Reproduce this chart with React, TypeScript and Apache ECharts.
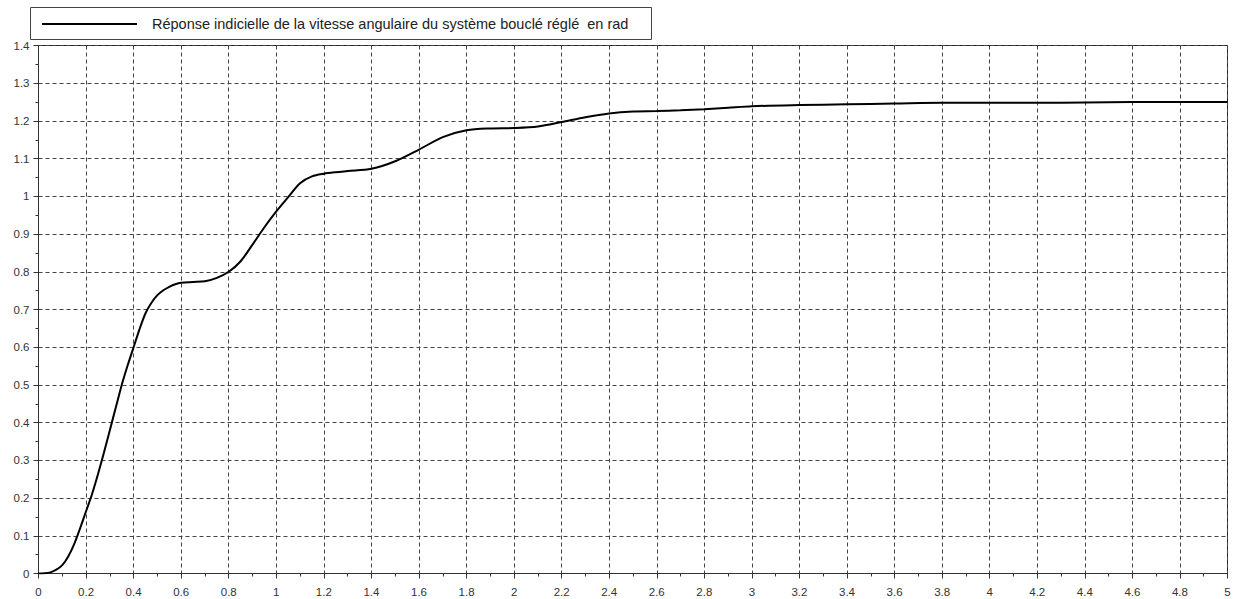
import React, { useEffect, useRef } from "react";
import * as echarts from "echarts";

const seriesName =
  "Réponse indicielle de la vitesse angulaire du système bouclé réglé  en rad";

const time = [
  0, 0.025, 0.05, 0.075, 0.1, 0.125, 0.15, 0.175, 0.2, 0.225, 0.25, 0.275, 0.3,
  0.325, 0.35, 0.375, 0.4, 0.425, 0.45, 0.475, 0.5, 0.525, 0.55, 0.575, 0.6,
  0.65, 0.7, 0.75, 0.8, 0.85, 0.9, 0.95, 1.0, 1.05, 1.1, 1.15, 1.2, 1.25, 1.3,
  1.4, 1.5, 1.6, 1.7, 1.8, 1.9, 2.0, 2.1, 2.2, 2.3, 2.4, 2.5, 2.6, 2.7, 2.8,
  2.9, 3.0, 3.2, 3.4, 3.6, 3.8, 4.0, 4.2, 4.4, 4.6, 4.8, 5.0,
];

const speed = [
  0, 0.0005, 0.003, 0.01, 0.022, 0.045, 0.078, 0.12, 0.165, 0.21, 0.263, 0.32,
  0.38, 0.44, 0.5, 0.552, 0.6, 0.648, 0.69, 0.718, 0.738, 0.751, 0.76, 0.767,
  0.771, 0.773, 0.775, 0.784, 0.8, 0.828, 0.872, 0.918, 0.96, 0.998, 1.035,
  1.053, 1.06, 1.064, 1.067, 1.073, 1.093, 1.124, 1.157, 1.175, 1.18, 1.181,
  1.185, 1.197, 1.21, 1.22, 1.225, 1.226, 1.228, 1.231, 1.235, 1.239, 1.242,
  1.244, 1.246, 1.248, 1.248, 1.248, 1.249, 1.25, 1.25, 1.25,
];

const FONT = "'Liberation Sans', Arial, Helvetica, sans-serif";

export default function App() {
  const ref = useRef<HTMLDivElement>(null);

  useEffect(() => {
    if (!ref.current) return;
    const chart = echarts.init(ref.current, undefined, { renderer: "svg" });
    const data = time.map((t, i) => [t, speed[i]]);
    const gridLine = {
      show: true,
      lineStyle: { color: "#444", width: 1, type: [4, 3] as any },
    };
    const axisCommon = {
      axisLine: { show: true, onZero: false, lineStyle: { color: "#333", width: 1 } },
      axisTick: { show: true, inside: false, length: 5, lineStyle: { color: "#333" } },
      minorTick: { show: true, splitNumber: 2, length: 3, lineStyle: { color: "#333" } },
      splitLine: gridLine,
    };
    chart.setOption({
      animation: false,
      backgroundColor: "#fff",
      textStyle: { fontFamily: FONT },
      grid: {
        left: 38.5,
        right: 6.5,
        top: 45.5,
        bottom: 25.5,
        show: true,
        borderColor: "#222",
        borderWidth: 1,
        backgroundColor: "transparent",
      },
      xAxis: {
        type: "value",
        min: 0,
        max: 5,
        interval: 0.2,
        ...axisCommon,
        axisLabel: {
          show: true,
          margin: 12,
          fontSize: 11.5,
          color: "#333",
          fontFamily: FONT,
          showMinLabel: true,
          showMaxLabel: true,
        },
      },
      yAxis: {
        type: "value",
        min: 0,
        max: 1.4,
        interval: 0.1,
        ...axisCommon,
        axisLabel: {
          show: true,
          margin: 9,
          fontSize: 11.5,
          color: "#333",
          fontFamily: FONT,
          showMinLabel: true,
          showMaxLabel: true,
        },
      },
      series: [
        {
          name: seriesName,
          type: "line",
          data,
          showSymbol: false,
          symbol: "none",
          smooth: 0.3,
          lineStyle: { color: "#000", width: 2 },
          z: 5,
        },
      ],
      graphic: [
        {
          type: "rect",
          shape: { x: 30.5, y: 7.5, width: 621, height: 32 },
          style: { fill: "#fff", stroke: "#444", lineWidth: 1 },
          z: 10,
        },
        {
          type: "line",
          shape: { x1: 42, y1: 24, x2: 137, y2: 24 },
          style: { stroke: "#000", lineWidth: 2 },
          z: 11,
        },
        {
          type: "text",
          x: 152,
          y: 24,
          style: {
            text: seriesName,
            fill: "#222",
            font: `14.5px ${FONT}`,
            verticalAlign: "middle",
            align: "left",
          },
          z: 11,
        },
      ],
    });
    return () => chart.dispose();
  }, []);

  return (
    <div
      ref={ref}
      style={{ position: "fixed", left: 0, top: 0, width: 1234, height: 599, background: "#fff" }}
    />
  );
}
